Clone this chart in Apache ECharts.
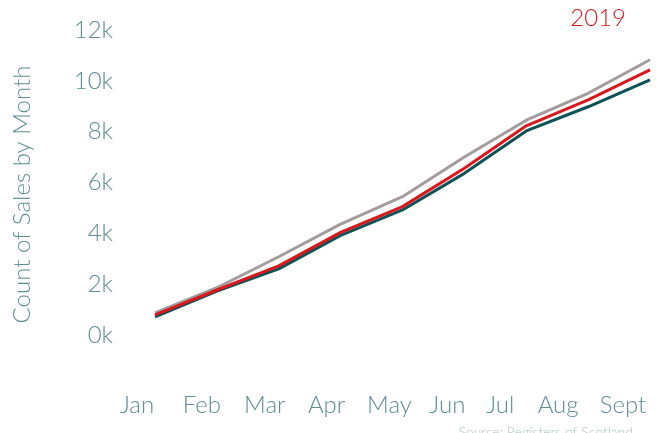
<!DOCTYPE html>
<html>
<head>
<meta charset="utf-8">
<script src="https://cdn.jsdelivr.net/npm/echarts@6/dist/echarts.min.js"></script>
<style>
html,body{margin:0;padding:0;background:#fff;}
#chart{width:664px;height:433px;}
</style>
</head>
<body>
<div id="chart"></div>
<script>
const months = ['Jan','Feb','Mar','Apr','May','Jun','Jul','Aug','Sept'];
const seriesNames = ['2017','2018','2019'];
const values2017 = [870, 1860, 3080, 4360, 5440, 7000, 8450, 9510, 10830];
const values2018 = [710, 1730, 2600, 3920, 4920, 6360, 8030, 8980, 10040];
const values2019 = [790, 1770, 2720, 4040, 5050, 6560, 8230, 9250, 10430];
const yTicks = [0, 2000, 4000, 6000, 8000, 10000, 12000];
const yTitle = 'Count of Sales by Month';
const sourceText = 'Source: Registers of Scotland';

const FONT = 'Lato';
const AXIS_COLOR = '#5e8d94';
const FS = 24;
// label horizontal shift (px, leftwards) to mimic reference label placement
const labelShift = [18, 15, 14, 14, 13, 17, 26, 30, 27];
const rich = {};
labelShift.forEach((s, i) => {
  rich['r' + i] = {padding: [0, 2 * s, 0, 0], fontSize: FS, fontFamily: FONT, fontWeight: 300, color: AXIS_COLOR};
});

const chart = echarts.init(document.getElementById('chart'));
chart.setOption({
  animation: false,
  backgroundColor: '#fff',
  grid: {left: 155, right: 14, top: 30, bottom: 98, containLabel: false, outerBoundsMode: 'none'},
  legend: {
    data: [{name: '2019', icon: 'none'}],
    right: 38, top: 6, itemWidth: 0, itemHeight: 0, padding: 0,
    selectedMode: false,
    textStyle: {color: '#d7191c', fontSize: FS, fontFamily: FONT, fontWeight: 300}
  },
  xAxis: {
    type: 'category',
    data: months,
    boundaryGap: false,
    axisLine: {show: false},
    axisTick: {show: false},
    splitLine: {show: false},
    axisLabel: {
      margin: 57,
      interval: 0,
      lineHeight: 26,
      formatter: (v, i) => '{r' + i + '|' + v + '}',
      rich: rich
    }
  },
  yAxis: {
    type: 'value',
    min: yTicks[0],
    max: yTicks[yTicks.length - 1],
    interval: yTicks[1] - yTicks[0],
    axisLine: {show: false},
    axisTick: {show: false},
    splitLine: {show: false},
    axisLabel: {
      margin: 42,
      color: AXIS_COLOR, fontSize: FS, fontFamily: FONT, fontWeight: 300,
      formatter: v => (v / 1000) + 'k'
    },
    name: yTitle,
    nameLocation: 'middle',
    nameGap: 121,
    nameTextStyle: {color: AXIS_COLOR, fontSize: FS, fontFamily: FONT, fontWeight: 300, padding: [0, 24, 0, 0]}
  },
  series: [
    {name: seriesNames[0], type: 'line', data: values2017, symbol: 'none', lineStyle: {color: '#a49c9c', width: 3}, itemStyle: {color: '#a49c9c'}, z: 2},
    {name: seriesNames[1], type: 'line', data: values2018, symbol: 'none', lineStyle: {color: '#0d5257', width: 3}, itemStyle: {color: '#0d5257'}, z: 3},
    {name: seriesNames[2], type: 'line', data: values2019, symbol: 'none', lineStyle: {color: '#d7191c', width: 3}, itemStyle: {color: '#d7191c'}, z: 4}
  ],
  graphic: [
    {type: 'text', right: 31, top: 425, style: {text: sourceText, fill: '#a9c3c6', font: '300 14px ' + FONT}}
  ]
});
</script>
</body>
</html>
